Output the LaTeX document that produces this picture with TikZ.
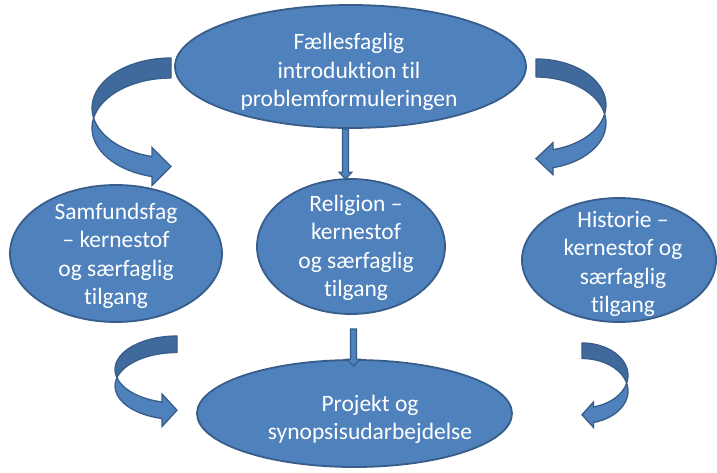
\documentclass[tikz,border=0pt]{standalone}
\usepackage{fontspec}
\setmainfont{Carlito}[Ligatures={NoCommon}]
\usetikzlibrary{calc,shapes.geometric}
\definecolor{fillc}{HTML}{4F81BD}
\definecolor{borderc}{HTML}{385D8A}
\definecolor{darkc}{HTML}{416A9C}
\tikzset{
  ell/.style={ellipse,draw=borderc,fill=fillc,line width=1.8pt,inner sep=0pt},
  txt/.style={text=white,align=center,inner sep=0pt,font=\fontsize{23.5}{28.3}\selectfont},
  backband/.style={draw=borderc,fill=darkc,line width=1.3pt,line join=round},
  frontband/.style={draw=borderc,fill=fillc,line width=1.3pt,line join=miter},
  sarrow/.style={draw=borderc,fill=fillc,line width=1.2pt,line join=miter}
}
% #1 end x, #2 top y, #3 direction, #4 rx, #5 ry, #6 band thickness, #7 head length, #8 head overhang
\newcommand\mycurvedarrow[8]{%
\begin{scope}[shift={(#1,#2)},xscale=#3]
\pgfmathsetmacro\cA{asin(#6/(2*#5))}
\pgfmathsetmacro\cT{acos(-#7/#4)}
\pgfmathsetmacro\yA{#5+#5*sin(\cT)}
\pgfmathsetmacro\yB{#5+#6+#5*sin(\cT)}
\pgfmathsetmacro\yM{(\yA+\yB)/2}
\pgfmathsetmacro\ix{-#4*cos(\cA)}
\pgfmathsetmacro\iy{#5+#6/2}
\filldraw[backband] (0,0) arc[start angle=270,end angle={180-\cA},x radius=#4,y radius=#5]
  arc[start angle={180+\cA},end angle=270,x radius=#4,y radius=#5] -- cycle;
\filldraw[frontband] (\ix,\iy) arc[start angle={180-\cA},end angle=\cT,x radius=#4,y radius=#5]
  -- (-#7,\yA-#8) -- (0,\yM) -- (-#7,\yB+#8) -- (-#7,\yB)
  arc[start angle=\cT,end angle={180+\cA},x radius=#4,y radius=#5] -- cycle;
\end{scope}}
\newcommand\myblockarrow[2]{%
\filldraw[sarrow] ($(#1)+(-3,0)$) -- ($(#2)+(-3,-7)$) -- ($(#2)+(-6.5,-7)$) -- (#2)
  -- ($(#2)+(6.5,-7)$) -- ($(#2)+(3,-7)$) -- ($(#1)+(3,0)$) -- cycle;}
\begin{document}
\begin{tikzpicture}[x=1pt,y=-1pt]
\fill[white] (0,0) rectangle (717,472);
\useasboundingbox (0,0) rectangle (717,472);
% ellipses
\node[ell,minimum width=351pt,minimum height=123pt] (top) at (350.5,66.5) {};
\node[ell,minimum width=212pt,minimum height=137pt] (sam) at (116,253.5) {};
\node[ell,minimum width=188pt,minimum height=135pt] (rel) at (351,246.5) {};
\node[ell,minimum width=194pt,minimum height=124pt] (his) at (619,260) {};
\node[ell,minimum width=315pt,minimum height=107pt] (bot) at (354.5,413.5) {};
% texts
\node[txt] (toptxt) at (349,72) {Fællesfaglig\\introduktion til\\problemformuleringen};
\node[txt] (samtxt) at (116,256) {Samfundsfag\\– kernestof\\og særfaglig\\tilgang};
\node[txt] (reltxt) at (356,248) {Religion –\\kernestof\\og særfaglig\\tilgang};
\node[txt] (histxt) at (623,264) {Historie –\\kernestof og\\særfaglig\\tilgang};
\node[txt] (bottxt) at (370,419) {Projekt og\\synopsisudarbejdelse};
% straight arrows
\coordinate (t1) at ($(top.south)+(-5,0)$);
\coordinate (t2) at ($(rel.north)+(-5.5,1)$);
\myblockarrow{t1}{t2}
\coordinate (b1) at ($(rel.south)+(2.5,14)$);
\coordinate (b2) at ($(bot.north)+(-1,7)$);
\myblockarrow{b1}{b2}
% curved arrows
\mycurvedarrow{171}{58}{1}{79}{50}{20}{19}{9}
\mycurvedarrow{536}{59}{-1}{70}{46}{18}{17}{7}
\mycurvedarrow{177}{336}{1}{62}{33.5}{16.5}{15}{8}
\mycurvedarrow{582}{343}{-1}{46}{32.5}{15.5}{11.5}{5}
\end{tikzpicture}
\end{document}
